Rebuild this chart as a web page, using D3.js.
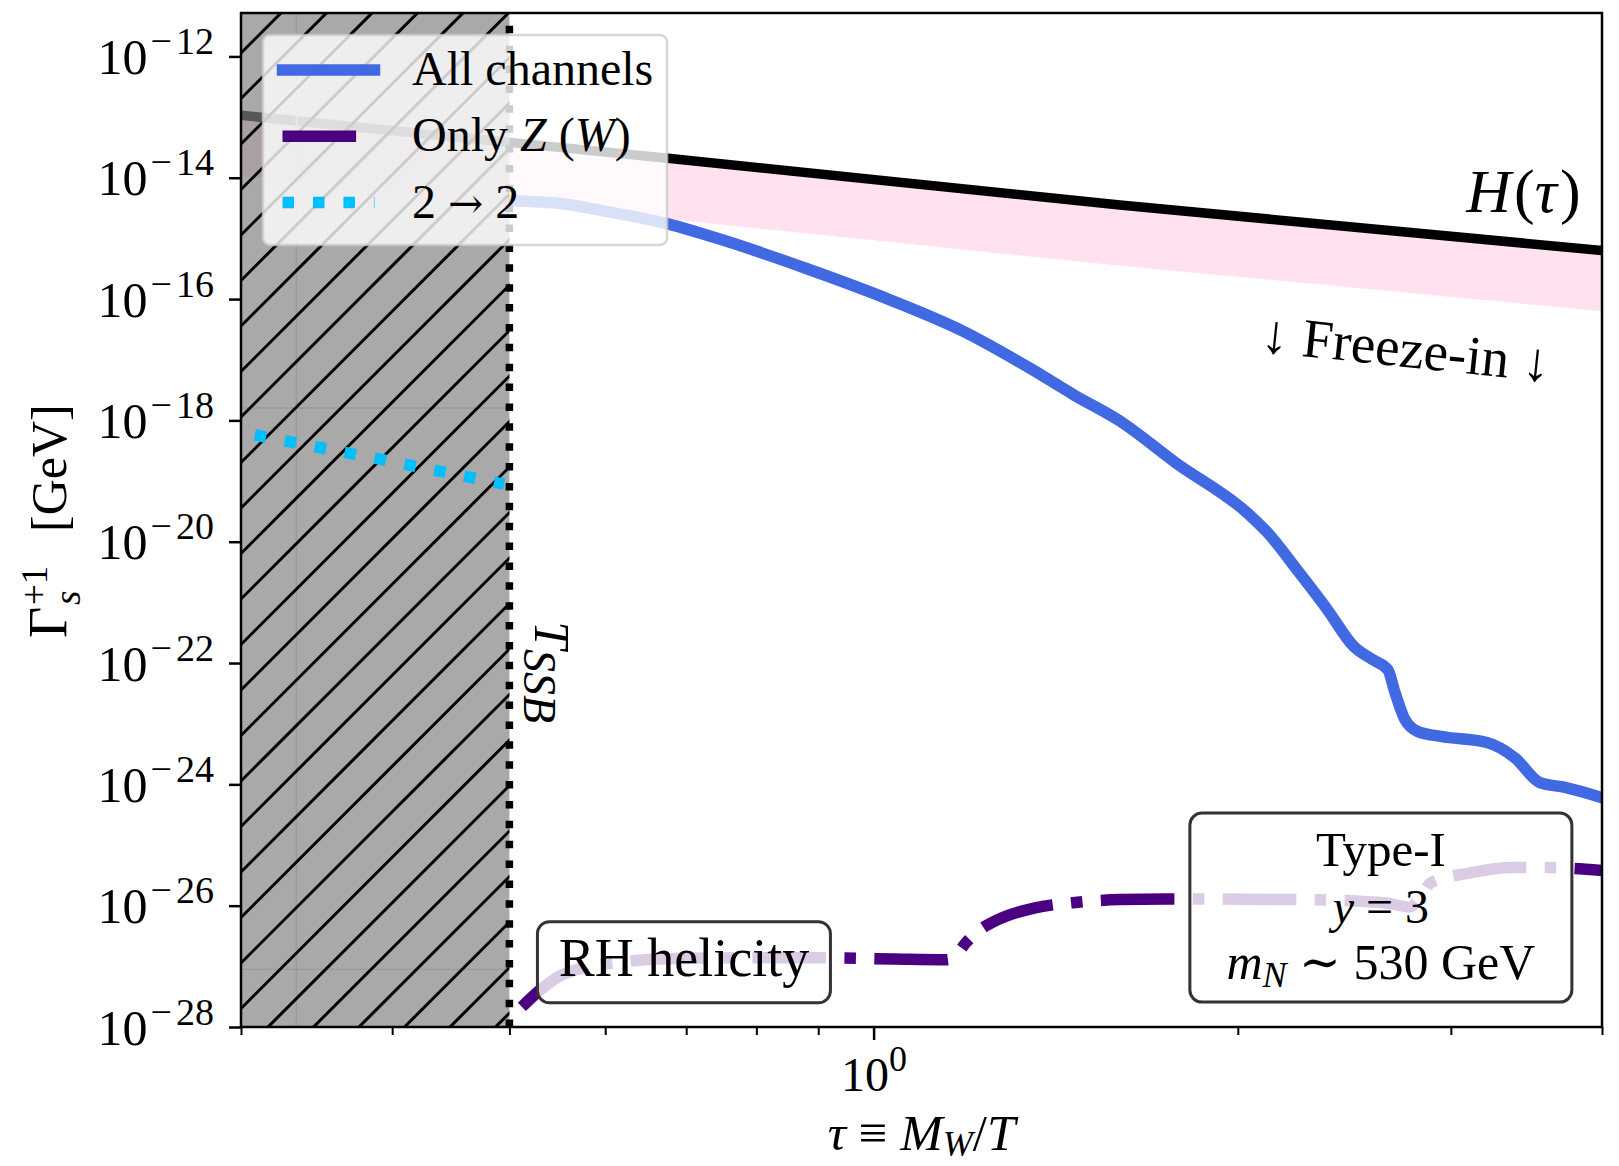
<!DOCTYPE html>
<html><head><meta charset="utf-8">
<script src="https://cdn.jsdelivr.net/npm/d3@7"></script>
<style>
body{margin:0;background:#fff}
svg{display:block}
text{font-family:"Liberation Serif","DejaVu Serif",serif;fill:#000}
</style>
</head><body>
<svg id="chart" width="1619" height="1166"></svg>
<script>
// ---------------- data ----------------
// Hubble rate H(tau) and freeze-in band lower edge
const tauH = [0.3, 0.676, 1.598, 4.0];
const hubble = [1.07e-13, 2.09e-14, 3.55e-15, 6.31e-16];
const freezeLow = [1.07e-14, 2.09e-15, 3.55e-16, 6.31e-17];

// All channels
const tauAll = [0.501,0.553,0.596,0.676,0.754,0.881,1.028,1.183,1.349,1.464,1.598,1.775,2.043,2.114,2.246,2.370,2.495,2.582,2.661,2.697,2.749,2.818,2.943,3.213,3.388,3.554,3.729,4.0];
const gammaAll = [4.17e-15,3.72e-15,2.88e-15,1.74e-15,9.12e-16,3.16e-16,1.0e-16,3.02e-17,7.08e-18,2.63e-18,9.77e-19,2.04e-19,2.82e-20,1.45e-20,3.16e-21,7.76e-22,1.86e-22,1.15e-22,7.76e-23,3.31e-23,1.17e-23,7.41e-24,6.17e-24,4.90e-24,2.75e-24,1.07e-24,8.91e-25,6.03e-25];

// Only Z (W)
const tauZW = [0.512,0.530,0.549,0.580,0.616,0.663,0.771,0.910,1.041,1.150,1.174,1.192,1.224,1.267,1.357,1.461,1.598,1.745,2.246,2.641,2.775,2.840,2.888,3.111,3.363,3.554,4.0];
const gammaZW = [2.14e-28,4.07e-28,6.76e-28,9.77e-28,1.17e-27,1.32e-27,1.38e-27,1.38e-27,1.32e-27,1.29e-27,1.66e-27,2.45e-27,3.98e-27,5.89e-27,9.12e-27,1.12e-26,1.26e-26,1.29e-26,1.26e-26,1.12e-26,9.55e-27,1.51e-26,2.40e-26,3.47e-26,4.27e-26,4.27e-26,3.80e-26];

// 2 -> 2
const tau22 = [0.308, 0.391, 0.495];
const gamma22 = [5.75e-19, 2.29e-19, 8.91e-20];

// symmetry-breaking temperature and excluded span
const tauSSB = 0.5;
const spanTau = [0.3, 0.5];
const spanGridTau = [1/3];
const spanGridGamma = [1.6e-18, 8.9e-28];

// axes
const xDomain = [0.3, 4];
const yDomain = [1e-28, 5.2e-12];
const xMajorTicks = [1];
const xMinorTicks = [0.3,0.4,0.5,0.6,0.7,0.8,0.9,2,3,4];
const yTicks = [1e-28,1e-26,1e-24,1e-22,1e-20,1e-18,1e-16,1e-14,1e-12];
const yTickExp = ["28","26","24","22","20","18","16","14","12"];

const legendLabels = ["All channels", "Only Z (W)", "2 → 2"];
const colors = {all:"#4169e1", zw:"#4b0082", s22:"#00bfff", band:"#ff69b4"};

// ---------------- layout ----------------
const W = 1619, H = 1166;
const x = d3.scaleLog().domain(xDomain).range([241, 1602]);
const y = d3.scaleLog().domain(yDomain).range([1027, 13]);
const [X0, X1] = x.range();
const [Y1, Y0] = y.range();

const svg = d3.select("#chart");
svg.append("rect").attr("width", W).attr("height", H).attr("fill", "#fff");
const defs = svg.append("defs");
defs.append("clipPath").attr("id", "plotClip").append("rect")
  .attr("x", X0).attr("y", Y0).attr("width", X1 - X0).attr("height", Y1 - Y0);
defs.append("clipPath").attr("id", "spanClip").append("rect")
  .attr("x", x(spanTau[0])).attr("y", Y0).attr("width", x(spanTau[1]) - x(spanTau[0])).attr("height", Y1 - Y0);

const g = svg.append("g").attr("clip-path", "url(#plotClip)");

// freeze-in band
const bandData = tauH.map((t, i) => ({t, hi: hubble[i], lo: freezeLow[i]}));
g.append("path").datum(bandData)
  .attr("d", d3.area().x(d => x(d.t)).y0(d => y(d.lo)).y1(d => y(d.hi)))
  .attr("fill", colors.band).attr("fill-opacity", 0.2);

// H(tau)
g.append("path").datum(tauH.map((t, i) => [t, hubble[i]]))
  .attr("d", d3.line().x(d => x(d[0])).y(d => y(d[1])))
  .attr("fill", "none").attr("stroke", "#000").attr("stroke-width", 9.5);

const curve = d3.line().x(d => x(d[0])).y(d => y(d[1])).curve(d3.curveMonotoneX);

// All channels
g.append("path").datum(tauAll.map((t, i) => [t, gammaAll[i]]))
  .attr("d", curve).attr("fill", "none").attr("stroke", colors.all)
  .attr("stroke-width", 11.5).attr("stroke-linejoin", "round").attr("stroke-linecap", "square");

// Only Z(W)
const lwZ = 11.5;
const dashDot = [6.4*lwZ, 1.6*lwZ, 1*lwZ, 1.6*lwZ].join(",");
g.append("path").datum(tauZW.map((t, i) => [t, gammaZW[i]]))
  .attr("d", curve).attr("fill", "none").attr("stroke", colors.zw)
  .attr("stroke-width", lwZ).attr("stroke-dasharray", dashDot).attr("stroke-linecap", "butt");

// excluded span (grey, semi-transparent)
g.append("rect").attr("x", x(spanTau[0])).attr("y", Y0)
  .attr("width", x(spanTau[1]) - x(spanTau[0])).attr("height", Y1 - Y0)
  .attr("fill", "#808080").attr("fill-opacity", 0.68);

const sg = g.append("g").attr("clip-path", "url(#spanClip)");
sg.selectAll("line.vg").data(spanGridTau).join("line")
  .attr("x1", d => x(d)).attr("x2", d => x(d)).attr("y1", Y0).attr("y2", Y1)
  .attr("stroke", "#9a9a9a").attr("stroke-width", 1.4);
sg.selectAll("line.hg").data(spanGridGamma).join("line")
  .attr("x1", X0).attr("x2", x(spanTau[1])).attr("y1", d => y(d)).attr("y2", d => y(d))
  .attr("stroke", "#9a9a9a").attr("stroke-width", 1.4);
// hatch '/'
const P = 45.5;
const hatchC = d3.range(1113 - 20 * P, x(spanTau[1]) + Y1 + P, P);
sg.selectAll("line.h").data(hatchC).join("line")
  .attr("x1", c => c - (Y1 + 20)).attr("y1", Y1 + 20)
  .attr("x2", c => c - (Y0 - 20)).attr("y2", Y0 - 20)
  .attr("stroke", "#000").attr("stroke-width", 3);

// 2 -> 2
const lw22 = 11.5;
g.append("path").datum(tau22.map((t, i) => [t, gamma22[i]]))
  .attr("d", d3.line().x(d => x(d[0])).y(d => y(d[1])))
  .attr("fill", "none").attr("stroke", colors.s22).attr("stroke-width", lw22)
  .attr("stroke-dasharray", `${lw22},${1.65*lw22}`).attr("stroke-linecap", "butt");

// T_SSB dotted line (drawn bottom to top)
const lwV = 7.5;
g.append("path").datum([[tauSSB, yDomain[0]], [tauSSB, yDomain[1]]])
  .attr("d", d3.line().x(d => x(d[0])).y(d => y(d[1])))
  .attr("fill", "none").attr("stroke", "#000").attr("stroke-width", lwV)
  .attr("stroke-dasharray", `${lwV},${1.65*lwV}`);

// ---------------- text annotations ----------------
// T_SSB
const ts = svg.append("g").attr("transform", `translate(${x(0.525)},${y(4.9e-22)}) rotate(90)`);
const tst = ts.append("text").attr("font-size", 50).attr("font-style", "italic");
tst.append("tspan").text("T");
tst.append("tspan").attr("dy", 11).attr("font-size", 46).text("SSB");

// H(tau)
const ht = svg.append("text").attr("x", x(3.84)).attr("y", y(2.75e-15))
  .attr("text-anchor", "end").attr("font-size", 62);
ht.append("tspan").attr("font-style", "italic").text("H");
ht.append("tspan").attr("dx", 3).text("(");
ht.append("tspan").attr("font-style", "italic").text("τ");
ht.append("tspan").attr("dx", 3).text(")");

// Freeze-in
svg.append("g").attr("transform", `translate(${x(2.754)},${y(1.51e-17)}) rotate(6)`)
  .append("text").attr("text-anchor", "middle").attr("y", 18).attr("font-size", 55)
  .text("↓ Freeze-in ↓");

// boxes
function box(cx, cy, hw, hh) {
  svg.append("rect").attr("x", cx - hw).attr("y", cy - hh).attr("width", 2*hw).attr("height", 2*hh)
    .attr("rx", 12).attr("fill", "#fff").attr("fill-opacity", 0.8)
    .attr("stroke", "#333").attr("stroke-width", 3);
}
// RH helicity
{
  const cx = x(0.697), cy = y(1.17e-27);
  box(cx, cy, 146.5, 40.5);
  svg.append("text").attr("x", cx).attr("y", cy + 14).attr("text-anchor", "middle")
    .attr("font-size", 54).text("RH helicity");
}
// Type-I
{
  const cx = x(2.626), cy = y(9.3e-27);
  box(cx, cy, 191, 94.5);
  svg.append("text").attr("x", cx).attr("y", cy - 42).attr("text-anchor", "middle")
    .attr("font-size", 49).text("Type-I");
  const l2 = svg.append("text").attr("x", cx).attr("y", cy + 15).attr("text-anchor", "middle").attr("font-size", 48);
  l2.append("tspan").attr("font-style", "italic").text("y");
  l2.append("tspan").text(" = 3");
  const l3 = svg.append("text").attr("x", cx).attr("y", cy + 71).attr("text-anchor", "middle").attr("font-size", 50);
  l3.append("tspan").attr("font-style", "italic").text("m");
  l3.append("tspan").attr("font-style", "italic").attr("font-size", 36).attr("dy", 8).text("N");
  l3.append("tspan").attr("dy", -8).text(" ∼ 530 GeV");
}

// ---------------- legend ----------------
const lg = svg.append("g");
lg.append("rect").attr("x", 263).attr("y", 35).attr("width", 404).attr("height", 210).attr("rx", 7)
  .attr("fill", "#fff").attr("fill-opacity", 0.8)
  .attr("stroke", "#cccccc").attr("stroke-opacity", 0.8).attr("stroke-width", 2.5);
const legendItems = [
  {label: legendLabels[0], color: colors.all, w: 11.5, dash: null, cap: "square"},
  {label: legendLabels[1], color: colors.zw, w: lwZ, dash: dashDot, cap: "butt"},
  {label: legendLabels[2], color: colors.s22, w: lw22, dash: `${lw22},${1.65*lw22}`, cap: "butt"}
];
legendItems.forEach((it, i) => {
  const cy = 70 + i * 66.3;
  const ln = lg.append("line").attr("x1", 282.5).attr("x2", 374.5).attr("y1", cy).attr("y2", cy)
    .attr("stroke", it.color).attr("stroke-width", it.w).attr("stroke-linecap", it.cap);
  if (it.dash) ln.attr("stroke-dasharray", it.dash);
  const t = lg.append("text").attr("x", 412).attr("y", cy + 15).attr("font-size", 48);
  if (i === 1) {
    t.append("tspan").text("Only ");
    t.append("tspan").attr("font-style", "italic").text("Z");
    t.append("tspan").text(" (");
    t.append("tspan").attr("font-style", "italic").text("W");
    t.append("tspan").text(")");
  } else if (i === 2) {
    t.append("tspan").text("2 ");
    t.append("tspan").attr("font-family", "DejaVu Serif").attr("font-size", 42).text("→");
    t.append("tspan").text(" 2");
  } else t.text(it.label);
});

// ---------------- axes ----------------
svg.append("rect").attr("x", X0).attr("y", Y0).attr("width", X1 - X0).attr("height", Y1 - Y0)
  .attr("fill", "none").attr("stroke", "#000").attr("stroke-width", 2.5);

const yAxis = svg.append("g").attr("transform", `translate(${X0},0)`)
  .call(d3.axisLeft(y).tickValues(yTicks).tickSize(12).tickFormat(() => ""));
yAxis.select(".domain").remove();
yAxis.attr("font-family", null).attr("font-size", null);
yAxis.selectAll(".tick line").attr("stroke", "#000").attr("stroke-width", 2.5);
yAxis.selectAll(".tick text").each(function(d, i) {
  const t = d3.select(this);
  t.attr("x", -27).attr("dy", null).attr("y", 17).attr("font-size", 50).attr("text-anchor", "end").attr("fill", "#000");
  t.append("tspan").text("10");
  t.append("tspan").attr("dy", -20).attr("dx", 3).attr("font-size", 38).text("−");
  t.append("tspan").attr("dx", 4).attr("font-size", 38).text(yTickExp[i]);
});

const xMinor = svg.append("g").attr("transform", `translate(0,${Y1})`)
  .call(d3.axisBottom(x).tickValues(xMinorTicks).tickSize(8).tickFormat(() => ""));
xMinor.select(".domain").remove();
xMinor.selectAll(".tick line").attr("stroke", "#000").attr("stroke-width", 2);
xMinor.selectAll(".tick text").remove();

const xMajor = svg.append("g").attr("transform", `translate(0,${Y1})`)
  .call(d3.axisBottom(x).tickValues(xMajorTicks).tickSize(13).tickFormat(() => ""));
xMajor.select(".domain").remove();
xMajor.attr("font-family", null).attr("font-size", null);
xMajor.selectAll(".tick line").attr("stroke", "#000").attr("stroke-width", 2.5);
xMajor.selectAll(".tick text").each(function() {
  const t = d3.select(this);
  t.attr("y", 64).attr("dy", null).attr("font-size", 48).attr("text-anchor", "middle").attr("fill", "#000");
  t.append("tspan").text("10");
  t.append("tspan").attr("dy", -20).attr("font-size", 36).text("0");
});

// axis labels
const xl = svg.append("text").attr("x", (X0 + X1) / 2).attr("y", 1150).attr("text-anchor", "middle").attr("font-size", 51);
xl.append("tspan").attr("font-style", "italic").text("τ");
xl.append("tspan").text(" ≡ ");
xl.append("tspan").attr("font-style", "italic").text("M");
xl.append("tspan").attr("font-style", "italic").attr("font-size", 36).attr("dy", 6).text("W");
xl.append("tspan").attr("dy", -6).text("/");
xl.append("tspan").attr("font-style", "italic").text("T");

const yl = svg.append("g").attr("transform", `translate(66,${(Y0 + Y1) / 2 + 2}) rotate(-90)`);
yl.append("text").attr("x", -116).attr("font-size", 54).text("Γ");
yl.append("text").attr("x", -83).attr("y", 14).attr("font-size", 37).attr("font-style", "italic").text("s");
yl.append("text").attr("x", -83).attr("y", -19).attr("font-size", 37).text("+1");
yl.append("text").attr("x", -10).attr("font-size", 50).text("[GeV]");
</script>
</body></html>
